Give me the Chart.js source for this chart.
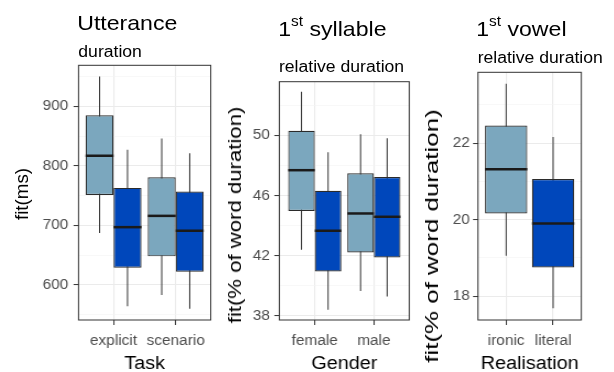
<!DOCTYPE html>
<html><head><meta charset="utf-8">
<script src="https://cdn.jsdelivr.net/npm/chart.js@4.4.1/dist/chart.umd.min.js"></script>
<style>
html,body{margin:0;padding:0;background:#fff;width:614px;height:372px;overflow:hidden;}
.panel{position:absolute;top:0;height:372px;transform-origin:0 0;transform:scaleX(1.1);}
.panel canvas{position:absolute;left:0;top:0;}
.t{position:absolute;white-space:nowrap;font-family:"Liberation Sans",Arial,sans-serif;color:#000;line-height:1;}
.t1{font-size:21px;}
.t2{font-size:16px;}
.sup{font-size:14px;position:relative;top:-10px;}
.yt{position:absolute;white-space:nowrap;font-family:"Liberation Sans",Arial,sans-serif;color:#000;font-size:18px;line-height:1;transform-origin:50% 50%;}
</style></head><body>
<div class="panel" style="left:0;width:195px">
  <canvas id="c1" width="195" height="372"></canvas>
  <div class="t t1" style="left:70.2px;top:11.5px">Utterance</div>
  <div class="t t2" style="left:71.2px;top:43.8px">duration</div>
</div>
<div class="panel" style="left:214px;width:188px">
  <canvas id="c2" width="188" height="372"></canvas>
  <div class="t t1" style="left:58.4px;top:17.5px">1<span class="sup">st</span> syllable</div>
  <div class="t t2" style="left:59px;top:59.2px">relative duration</div>
</div>
<div class="panel" style="left:420px;width:177px">
  <canvas id="c3" width="177" height="372"></canvas>
  <div class="t t1" style="left:51.1px;top:18.3px">1<span class="sup">st</span> vowel</div>
  <div class="t t2" style="left:52.4px;top:49.8px">relative duration</div>
</div>
<div class="yt" style="left:21.8px;top:194px;transform:translate(-50%,-50%) rotate(-90deg) scaleX(1.04)">fit(ms)</div>
<div class="yt" style="left:235px;top:214.5px;transform:translate(-50%,-50%) rotate(-90deg) scaleX(1.23)">fit(% of word duration)</div>
<div class="yt" style="left:431.8px;top:236px;transform:translate(-50%,-50%) rotate(-90deg) scaleX(1.44)">fit(% of word duration)</div>
<script>
// ---- data: each box = [lower whisker, Q1, median, Q3, upper whisker]
const taskLabels = ['explicit', 'scenario'];
const taskLight = [[687, 751, 817, 885, 950], [583, 648, 716, 781, 846]];
const taskDark  = [[564, 629, 697, 763, 827], [560, 622, 691, 757, 821]];
const taskMajorTicks = [600, 700, 800, 900];
const taskMinorTicks = [550, 650, 750, 850, 950];

const genderLabels = ['female', 'male'];
const genderLight = [[42.41, 44.98, 47.70, 50.33, 52.92], [39.66, 42.23, 44.82, 47.50, 50.09]];
const genderDark  = [[38.42, 40.96, 43.67, 46.33, 48.90], [39.30, 41.89, 44.60, 47.24, 49.83]];
const genderMajorTicks = [38, 42, 46, 50];
const genderMinorTicks = [40, 44, 48, 52];

const realisationLabels = ['ironic', 'literal'];
const realisationLight = [[19.06, 20.16, 21.32, 22.46, 23.55]];
const realisationDark  = [[17.69, 18.75, 19.90, 21.06, 22.16]];
const realisationMajorTicks = [18, 20, 22];
const realisationMinorTicks = [19, 21, 23];

const LIGHT = '#7BA7BE', DARK = '#0047BB';
Chart.defaults.font.family = '"Liberation Sans", Arial, sans-serif';

const boxExtras = {
  id: 'boxExtras',
  afterDatasetsDraw(chart) {
    const ctx = chart.ctx, y = chart.scales.y;
    chart.data.datasets.forEach((ds, i) => {
      if (!ds.medians) return;
      chart.getDatasetMeta(i).data.forEach((el, j) => {
        const py = y.getPixelForValue(ds.medians[j]);
        ctx.save();
        ctx.strokeStyle = '#1A1A1A'; ctx.lineWidth = 2.5;
        ctx.beginPath(); ctx.moveTo(el.x - el.width / 2, py); ctx.lineTo(el.x + el.width / 2, py); ctx.stroke();
        ctx.restore();
      });
    });
    const a = chart.chartArea;
    ctx.save(); ctx.strokeStyle = '#333333'; ctx.lineWidth = 1;
    ctx.strokeRect(a.left, a.top, a.right - a.left, a.bottom - a.top);
    ctx.restore();
  }
};

function build(id, cfg) {
  const datasets = [];
  cfg.series.forEach(s => {
    datasets.push({
      label: s.name, stack: s.stack, order: 0,
      data: s.xs.map((x, k) => ({x: x, y: [s.stats[k][1], s.stats[k][3]]})),
      medians: s.stats.map(v => v[2]),
      backgroundColor: s.color, borderColor: '#2B2B2B', borderWidth: 1.2, borderSkipped: false,
      barPercentage: 1, categoryPercentage: 0.9
    });
    datasets.push({
      label: s.name + ' whiskers', stack: s.stack, order: 1,
      data: s.xs.map((x, k) => ({x: x, y: [s.stats[k][0], s.stats[k][4]]})),
      backgroundColor: '#333333', borderWidth: 0,
      barPercentage: 1, categoryPercentage: 0.9, maxBarThickness: 1
    });
  });
  const majors = cfg.major;
  const allTicks = cfg.major.concat(cfg.minor).sort((a, b) => a - b);
  const isMajor = v => majors.indexOf(v) !== -1;
  return new Chart(document.getElementById(id), {
    type: 'bar',
    data: {datasets},
    options: {
      responsive: false, animation: false, devicePixelRatio: 1,
      layout: {padding: {left: 0, right: cfg.rightPad, top: cfg.top, bottom: 0}},
      plugins: {legend: {display: false}, tooltip: {enabled: false}},
      scales: {
        x: {
          type: 'linear', min: cfg.xMin, max: cfg.xMax, offset: false,
          afterBuildTicks: sc => { sc.ticks = cfg.labels.map((l, i) => ({value: i + 1})); },
          afterFit: sc => { sc.height = 52; },
          ticks: {callback: (v, i) => cfg.labels[i], autoSkip: false, maxRotation: 0, minRotation: 0,
                  padding: 0, color: '#4D4D4D', font: {size: 14, lineHeight: 2.3}},
          grid: {offset: false, color: '#EBEBEB', lineWidth: 1.1, tickLength: 5, tickColor: '#333333', tickWidth: 1},
          border: {display: false},
          title: {display: true, text: cfg.xTitle, color: '#000', font: {size: 18, lineHeight: 0.9}, padding: 0}
        },
        y: {
          type: 'linear', min: cfg.yMin, max: cfg.yMax, stacked: false,
          afterBuildTicks: sc => { sc.ticks = allTicks.map(v => ({value: v})); },
          afterFit: sc => { sc.width = cfg.left; },
          ticks: {callback: v => isMajor(v) ? String(v) : '', padding: cfg.yPad, color: '#4D4D4D', font: {size: 14, lineHeight: 1}},
          grid: {
            color: c => (c.tick && isMajor(c.tick.value)) ? '#EBEBEB' : '#F4F4F4',
            lineWidth: c => (c.tick && isMajor(c.tick.value)) ? 1.1 : 0.6,
            tickColor: c => (c.tick && isMajor(c.tick.value)) ? '#333333' : 'rgba(0,0,0,0)',
            tickLength: 4.5, tickWidth: 1
          },
          border: {display: false},
          title: {display: false}
        }
      }
    },
    plugins: [boxExtras]
  });
}

build('c1', {
  labels: taskLabels, xTitle: 'Task',
  series: [
    {name: 'light', stack: 'L', color: LIGHT, xs: [1, 2], stats: taskLight},
    {name: 'dark', stack: 'D', color: DARK, xs: [1, 2], stats: taskDark}
  ],
  major: taskMajorTicks, minor: taskMinorTicks, yMin: 541, yMax: 969,
  xMin: 0.437, xMax: 2.563, left: 71.4, rightPad: 3.45, top: 65.3, yPad: 4.8
});
build('c2', {
  labels: genderLabels, xTitle: 'Gender',
  series: [
    {name: 'light', stack: 'L', color: LIGHT, xs: [1, 2], stats: genderLight},
    {name: 'dark', stack: 'D', color: DARK, xs: [1, 2], stats: genderDark}
  ],
  major: genderMajorTicks, minor: genderMinorTicks, yMin: 37.73, yMax: 53.59,
  xMin: 0.4, xMax: 2.6, left: 59.4, rightPad: 10.45, top: 81.7, yPad: 4
});
build('c3', {
  labels: realisationLabels, xTitle: 'Realisation',
  series: [
    {name: 'light', stack: 'A', color: LIGHT, xs: [1], stats: realisationLight},
    {name: 'dark', stack: 'A', color: DARK, xs: [2], stats: realisationDark}
  ],
  major: realisationMajorTicks, minor: realisationMinorTicks, yMin: 17.38, yMax: 23.85,
  xMin: 0.4, xMax: 2.6, left: 52.7, rightPad: 30.36, top: 72.3, yPad: 2.8
});
</script>
</body></html>
